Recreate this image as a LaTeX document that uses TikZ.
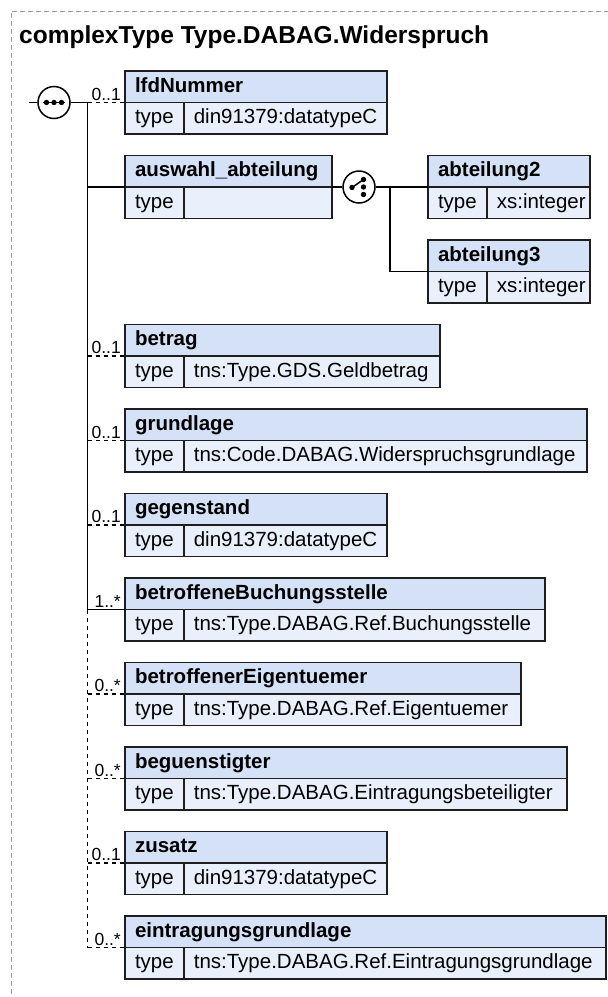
\documentclass[tikz,border=0pt]{standalone}
\usepackage{fontspec}
\setmainfont{Liberation Sans}
\definecolor{hdrfill}{HTML}{D5E1F7}
\definecolor{rowfill}{HTML}{EAF0FB}
\definecolor{boxline}{HTML}{1E1E1E}
\definecolor{framegray}{HTML}{9A9A9A}
\newcommand\bodyfont{\fontsize{20.5}{24}\selectfont}
\newcommand\hdrfont{\bfseries\fontsize{20.5}{24}\selectfont}
\tikzset{
 box/.style={draw=boxline, line width=1.5pt, inner ysep=0pt, inner xsep=10pt, outer sep=0pt,
   minimum height=31.5pt, text height=15pt, text depth=4.5pt, align=left},
 hdr/.style={box, fill=hdrfill, font=\hdrfont},
 trow/.style={box, fill=rowfill, font=\bodyfont},
 conn/.style={line width=1.6pt, draw=black},
 opt/.style={conn, dash pattern=on 4.5pt off 3.5pt},
 mult/.style={inner sep=0pt, font=\fontsize{17.5}{20}\selectfont, anchor=base east},
 comp/.style={circle, draw=black, line width=1.5pt, fill=white, minimum size=32pt, inner sep=0pt},
 frame/.style={draw=framegray, line width=1pt, dash pattern=on 5pt off 3pt},
}
% name, x, top, total width, title, type
\newcommand\elem[6]{%
 \pgfmathsetmacro\elHW{#4-20}%
 \pgfmathsetmacro\elVW{#4-58.8-20}%
 \node[hdr, anchor=north west, text width=\elHW pt] (#1) at (#2,#3) {#5};
 \node[trow, anchor=north west, text width=38.8pt] (#1t) at (#1.south west) {type};
 \node[trow, anchor=north west, text width=\elVW pt] (#1v) at (#1t.north east) {#6};
}
\begin{document}
\begin{tikzpicture}[x=1pt,y=-1pt]
\useasboundingbox (0,0) rectangle (608,997);
\draw[frame] (11,1010) -- (11,11) -- (620,11);
\node[anchor=base west, inner sep=0pt, font=\bfseries\fontsize{24.5}{28}\selectfont] (title) at (19,43) {complexType Type.DABAG.Widerspruch};

\elem{lfd}{125}{71}{262}{lfdNummer}{din91379:datatypeC}
\elem{ausw}{125}{155.5}{207}{auswahl\_abteilung}{}
\elem{abt2}{428}{155.5}{162}{abteilung2}{xs:integer}
\elem{abt3}{428}{240}{162}{abteilung3}{xs:integer}
\elem{betrag}{125}{324.5}{315}{betrag}{tns:Type.GDS.Geldbetrag}
\elem{grund}{125}{409}{462}{grundlage}{tns:Code.DABAG.Widerspruchsgrundlage}
\elem{gegen}{125}{493.5}{262}{gegenstand}{din91379:datatypeC}
\elem{bbs}{125}{578}{420}{betroffeneBuchungsstelle}{tns:Type.DABAG.Ref.Buchungsstelle}
\elem{eig}{125}{662.5}{396}{betroffenerEigentuemer}{tns:Type.DABAG.Ref.Eigentuemer}
\elem{beg}{125}{747}{442}{beguenstigter}{tns:Type.DABAG.Eintragungsbeteiligter}
\elem{zus}{125}{831.5}{262}{zusatz}{din91379:datatypeC}
\elem{eintr}{125}{916}{481}{eintragungsgrundlage}{tns:Type.DABAG.Ref.Eintragungsgrundlage}

% sequence compositor
\node[comp] (seq) at (54,102.5) {};
\coordinate (seqin) at (29,102.5);
\coordinate (trunk) at (87.5,102.5);
\draw[conn] (seqin) -- (seq);
\draw[conn] (seq) -- (trunk);
\draw[line width=1.5pt] ([xshift=-11pt]seq.center) -- ([xshift=11pt]seq.center);
\fill ([xshift=-7.5pt]seq.center) circle (2.7pt);
\fill (seq.center) circle (2.7pt);
\fill ([xshift=7.5pt]seq.center) circle (2.7pt);

% trunk
\draw[conn] (trunk) -- (trunk |- bbs.south west);
\draw[opt] (trunk |- bbs.south west) -- (trunk |- eintr.south west);

% branches
\draw[opt] (trunk) -- (lfd.south west);
\draw[conn] (trunk |- ausw.south west) -- (ausw.south west);
\draw[opt] (trunk |- betrag.south west) -- (betrag.south west);
\draw[opt] (trunk |- grund.south west) -- (grund.south west);
\draw[opt] (trunk |- gegen.south west) -- (gegen.south west);
\draw[conn] (trunk |- bbs.south west) -- (bbs.south west);
\draw[opt] (trunk |- eig.south west) -- (eig.south west);
\draw[opt] (trunk |- beg.south west) -- (beg.south west);
\draw[opt] (trunk |- zus.south west) -- (zus.south west);
\draw[opt] (trunk |- eintr.south west) -- (eintr.south west);

% multiplicities
\node[mult] (mlfd) at ([xshift=-4pt,yshift=2.5pt]lfd.south west) {0..1};
\node[mult] (mbetrag) at ([xshift=-4pt,yshift=2.5pt]betrag.south west) {0..1};
\node[mult] (mgrund) at ([xshift=-4pt,yshift=2.5pt]grund.south west) {0..1};
\node[mult] (mgegen) at ([xshift=-4pt,yshift=2.5pt]gegen.south west) {0..1};
\node[mult] (mbbs) at ([xshift=-4pt,yshift=2.5pt]bbs.south west) {1..*};
\node[mult] (meig) at ([xshift=-4pt,yshift=2.5pt]eig.south west) {0..*};
\node[mult] (mbeg) at ([xshift=-4pt,yshift=2.5pt]beg.south west) {0..*};
\node[mult] (mzus) at ([xshift=-4pt,yshift=2.5pt]zus.south west) {0..1};
\node[mult] (meintr) at ([xshift=-4pt,yshift=2.5pt]eintr.south west) {0..*};

% choice compositor
\node[comp] (ch) at (359,187) {};
\coordinate (chj) at (390,187);
\draw[conn] (ausw.south east) -- (ch);
\draw[conn] (ch) -- (chj);
\draw[conn] (chj) -- (abt2.south west);
\draw[conn] (chj) -- (chj |- abt3.south west) -- (abt3.south west);
\draw[line width=1.5pt] ([shift={(-7,0.5)}]ch.center) -- ([shift={(4.5,-7.5)}]ch.center);
\fill ([shift={(-7,0.5)}]ch.center) circle (2.7pt);
\fill ([shift={(4.5,-7.5)}]ch.center) circle (2.7pt);
\fill ([shift={(4.5,0)}]ch.center) circle (2.7pt);
\fill ([shift={(4.5,7.5)}]ch.center) circle (2.7pt);
\end{tikzpicture}
\end{document}
